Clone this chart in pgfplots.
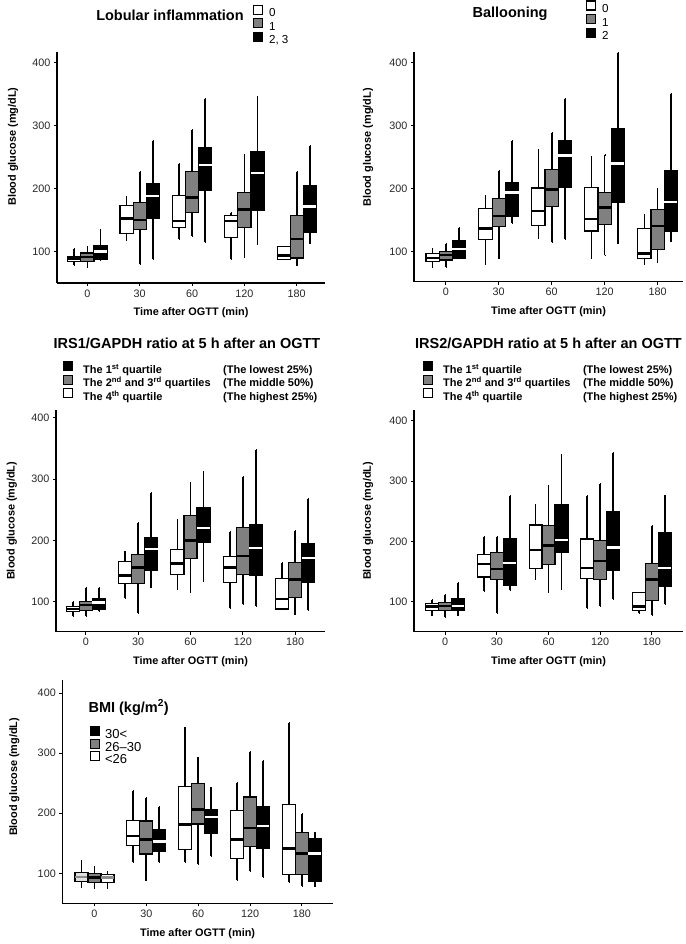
\documentclass[border=0pt]{standalone}
\usepackage{fontspec}
\setmainfont{Liberation Sans}
\usepackage{pgfplots}
\pgfplotsset{compat=1.18}
\usepgfplotslibrary{statistics}

\newcommand{\BX}[7]{\addplot[#1, forget plot, boxplot prepared={draw position=#2, lower whisker=#3, lower quartile=#4, median=#5, upper quartile=#6, upper whisker=#7}] coordinates {};}

\pgfplotsset{
  legend image code/.code={\draw[#1, line width=1.2pt] (0pt,-0.5pt) rectangle (9pt,8.5pt);},
  wb/.style={draw=black, fill=white, line width=1.2pt, boxplot/draw direction=y, boxplot/box extend=2.5, boxplot/whisker extend=0.05,
     boxplot/every median/.style={line width=2.4pt, draw=black},
     boxplot/every whisker/.style={line width=1.7pt}},
  gb/.style={wb, fill=black!50},
  kb/.style={wb, fill=black, boxplot/every median/.style={line width=2.4pt, draw=white}},
  wbl/.style={wb, fill=black!12, boxplot/every median/.style={line width=2.4pt, draw=black!45}},
  kbl/.style={wb, fill=white, boxplot/every median/.style={line width=2.4pt, draw=black!45}},
  panel/.style={scale only axis, axis x line=bottom, axis y line=left,
     axis line style={-, line width=1.2pt, black},
     xtick={0,10,20,30,40}, xticklabels={0,30,60,120,180}, ytick={100,200,300,400},
     tick align=outside, major tick length=3pt, tick style={line width=1pt, black},
     tick label style={font=\fontsize{10.8}{12}\selectfont, text=black!85},
     /pgf/number format/assume math mode=true,
     xlabel={Time after OGTT (min)}, ylabel={Blood glucose (mg/dL)},
     label style={font=\bfseries\fontsize{10.9}{12}\selectfont},
     xlabel style={at={(axis description cs:0.5,0)}, anchor=center, yshift=-30pt},
     title style={font=\bfseries\fontsize{14.5}{16}\selectfont, anchor=center},
     legend cell align=left,
     clip=false},
  leg/.style={legend style={draw=none, fill=none, inner sep=0pt, outer sep=0pt, anchor=north west,
     nodes={inner sep=0pt, text height=8.5pt, text depth=2.5pt},
     /tikz/every odd column/.append style={column sep=#1}}},
}

\begin{document}
\begin{tikzpicture}
\path[use as bounding box] (0pt,0pt) rectangle (685pt,-944pt);

% Panel 1: Lobular inflammation
\begin{axis}[panel, at={(57pt,-283pt)}, anchor=south west, width=268pt, height=231pt,
  xmin=-5.8, xmax=45.4, ymin=50.3, ymax=417,
  ylabel style={at={(axis description cs:-0.164,0.59)}, anchor=center},
  title={Lobular inflammation}, title style={at={(axis description cs:0.4216,1.134)}},
  leg=6pt, legend style={at={(axis description cs:0.731,1.205)}, row sep=-1pt, font=\fontsize{11.6}{13}\selectfont}]
\BX{wb}{-2.5}{79}{84}{89}{93}{105}
\BX{gb}{0}{76}{85}{92}{98}{108}
\BX{kb}{2.5}{87}{87}{100}{109}{134}
\BX{wb}{7.5}{118}{129}{153}{173}{187}
\BX{gb}{10}{80}{135}{150}{178}{227}
\BX{kb}{12.5}{88}{153}{188}{208}{276}
\BX{wb}{17.5}{120}{139}{149}{189}{239}
\BX{gb}{20}{125}{162}{186}{227}{293}
\BX{kb}{22.5}{115}{197}{238}{265}{343}
\BX{wb}{27.5}{88}{122}{149}{157}{162}
\BX{gb}{30}{92}{138}{167}{194}{253}
\BX{kb}{32.5}{112}{165}{225}{259}{346}
\BX{wb}{37.5}{88}{88}{94}{108}{108}
\BX{gb}{40}{78}{90}{120}{158}{227}
\BX{kb}{42.5}{113}{131}{172}{205}{268}
\addlegendimage{draw=black, fill=white}\addlegendentry{0}
\addlegendimage{draw=black, fill=black!50}\addlegendentry{1}
\addlegendimage{draw=black, fill=black}\addlegendentry{2, 3}
\end{axis}

% Panel 2: Ballooning
\begin{axis}[panel, at={(414pt,-281.7pt)}, anchor=south west, width=269pt, height=229.7pt,
  xmin=-6, xmax=44.8, ymin=52.4, ymax=417,
  ylabel style={at={(axis description cs:-0.171,0.585)}, anchor=center},
  title={Ballooning}, title style={at={(axis description cs:0.357,1.139)}},
  leg=6pt, legend style={at={(axis description cs:0.639,1.225)}, row sep=-1pt, font=\fontsize{11.6}{13}\selectfont}]
\BX{wb}{-2.5}{76}{84}{90}{97}{105}
\BX{gb}{0}{76}{87}{95}{100}{112}
\BX{kb}{2.5}{89}{89}{104}{117}{138}
\BX{wb}{7.5}{81}{120}{137}{169}{188}
\BX{gb}{10}{89}{140}{157}{185}{228}
\BX{kb}{12.5}{146}{156}{194}{210}{276}
\BX{wb}{17.5}{122}{141}{165}{201}{261}
\BX{gb}{20}{115}{172}{199}{230}{289}
\BX{kb}{22.5}{120}{202}{253}{276}{343}
\BX{wb}{27.5}{90}{133}{152}{202}{251}
\BX{gb}{30}{94}{143}{170}{194}{253}
\BX{kb}{32.5}{113}{178}{240}{296}{416}
\BX{wb}{37.5}{80}{89}{97}{137}{159}
\BX{gb}{40}{83}{104}{141}{167}{199}
\BX{kb}{42.5}{116}{133}{179}{229}{351}
\addlegendimage{draw=black, fill=white}\addlegendentry{0}
\addlegendimage{draw=black, fill=black!50}\addlegendentry{1}
\addlegendimage{draw=black, fill=black}\addlegendentry{2}
\end{axis}

% Panel 3: IRS1
\begin{axis}[panel, at={(56pt,-631.7pt)}, anchor=south west, width=269pt, height=221.7pt,
  xmin=-5.7, xmax=45.7, ymin=51.1, ymax=412.6,
  ylabel style={at={(axis description cs:-0.164,0.5)}, anchor=center},
  title={IRS1/GAPDH ratio at 5 h after an OGTT}, title style={at={(axis description cs:0.487,1.275)}},
  leg=10pt, legend style={at={(axis description cs:0.026,1.221)}, row sep=-1pt, font=\bfseries\fontsize{11}{13}\selectfont}]
\BX{wb}{-2.5}{76}{84}{88}{92}{100}
\BX{gb}{0}{77}{86}{95}{101}{123}
\BX{kb}{2.5}{85}{88}{99}{105}{122}
\BX{wb}{7.5}{106}{130}{143}{166}{182}
\BX{gb}{10}{81}{130}{156}{177}{229}
\BX{kb}{12.5}{123}{151}{186}{204}{277}
\BX{wb}{17.5}{121}{144}{162}{185}{234}
\BX{gb}{20}{115}{170}{200}{241}{294}
\BX{kb}{22.5}{134}{197}{220}{253}{312}
\BX{wb}{27.5}{89}{131}{156}{174}{214}
\BX{gb}{30}{96}{144}{175}{221}{303}
\BX{kb}{32.5}{93}{143}{188}{226}{347}
\BX{wb}{37.5}{88}{88}{104}{138}{163}
\BX{gb}{40}{79}{107}{136}{164}{215}
\BX{kb}{42.5}{87}{131}{171}{194}{267}
\addlegendimage{draw=black, fill=black}\addlegendentry{\makebox[140pt][l]{The 1\textsuperscript{st} quartile}(The lowest 25\%)}
\addlegendimage{draw=black, fill=black!50}\addlegendentry{\makebox[140pt][l]{The 2\textsuperscript{nd} and 3\textsuperscript{rd} quartiles}(The middle 50\%)}
\addlegendimage{draw=black, fill=white}\addlegendentry{\makebox[140pt][l]{The 4\textsuperscript{th} quartile}(The highest 25\%)}
\end{axis}

% Panel 4: IRS2
\begin{axis}[panel, at={(414pt,-631.7pt)}, anchor=south west, width=269pt, height=221.7pt,
  xmin=-6, xmax=46, ymin=50.2, ymax=417.7,
  ylabel style={at={(axis description cs:-0.171,0.5)}, anchor=center},
  title={IRS2/GAPDH ratio at 5 h after an OGTT}, title style={at={(axis description cs:0.5,1.275)}},
  leg=10pt, legend style={at={(axis description cs:0.033,1.221)}, row sep=-1pt, font=\bfseries\fontsize{11}{13}\selectfont}]
\BX{wb}{-2.5}{77}{85}{92}{97}{103}
\BX{gb}{0}{74}{85}{93}{99}{111}
\BX{kb}{2.5}{77}{85}{93}{105}{131}
\BX{wb}{7.5}{118}{141}{162}{178}{208}
\BX{gb}{10}{81}{137}{154}{181}{208}
\BX{kb}{12.5}{119}{127}{164}{205}{275}
\BX{wb}{17.5}{138}{155}{186}{227}{260}
\BX{gb}{20}{115}{161}{193}{226}{292}
\BX{kb}{22.5}{120}{182}{202}{261}{343}
\BX{wb}{27.5}{89}{138}{156}{204}{275}
\BX{gb}{30}{93}{137}{167}{201}{295}
\BX{kb}{32.5}{104}{151}{190}{249}{346}
\BX{wb}{37.5}{81}{86}{92}{115}{115}
\BX{gb}{40}{78}{102}{137}{163}{226}
\BX{kb}{42.5}{96}{126}{156}{214}{276}
\addlegendimage{draw=black, fill=black}\addlegendentry{\makebox[140pt][l]{The 1\textsuperscript{st} quartile}(The lowest 25\%)}
\addlegendimage{draw=black, fill=black!50}\addlegendentry{\makebox[140pt][l]{The 2\textsuperscript{nd} and 3\textsuperscript{rd} quartiles}(The middle 50\%)}
\addlegendimage{draw=black, fill=white}\addlegendentry{\makebox[140pt][l]{The 4\textsuperscript{th} quartile}(The highest 25\%)}
\end{axis}

% Panel 5: BMI
\begin{axis}[panel, at={(62.3pt,-903.3pt)}, anchor=south west, width=270.7pt, height=223.3pt,
  xmin=-6.2, xmax=46, ymin=50, ymax=422,
  ylabel style={at={(axis description cs:-0.177,0.566)}, anchor=center},
  title={BMI (kg/m\textsuperscript{2})}, title style={at={(axis description cs:0.084,0.85)}, anchor=west},
  leg=5pt, legend style={at={(axis description cs:0.102,0.794)}, row sep=-2.5pt, font=\fontsize{13}{14}\selectfont,
     nodes={inner sep=0pt, text height=9.5pt, text depth=2.5pt}}]
\BX{wbl}{-2.5}{77}{86}{94}{101}{121}
\BX{gb}{0}{75}{85}{93}{100}{111}
\BX{kbl}{2.5}{76}{85}{93}{98}{103}
\BX{wb}{7.5}{118}{146}{162}{188}{237}
\BX{gb}{10}{88}{132}{156}{187}{225}
\BX{kb}{12.5}{118}{137}{153}{172}{210}
\BX{wb}{17.5}{119}{139}{181}{244}{343}
\BX{gb}{20}{115}{182}{206}{250}{293}
\BX{kb}{22.5}{129}{166}{194}{206}{243}
\BX{wb}{27.5}{89}{124}{156}{205}{250}
\BX{gb}{30}{104}{144}{175}{227}{302}
\BX{kb}{32.5}{94}{141}{179}{211}{287}
\BX{wb}{37.5}{86}{98}{141}{215}{351}
\BX{gb}{40}{79}{98}{133}{168}{199}
\BX{kb}{42.5}{78}{86}{133}{158}{168}
\addlegendimage{draw=black, fill=black}\addlegendentry{30<}
\addlegendimage{draw=black, fill=black!50}\addlegendentry{26--30}
\addlegendimage{draw=black, fill=white}\addlegendentry{<26}
\end{axis}
\end{tikzpicture}
\end{document}
